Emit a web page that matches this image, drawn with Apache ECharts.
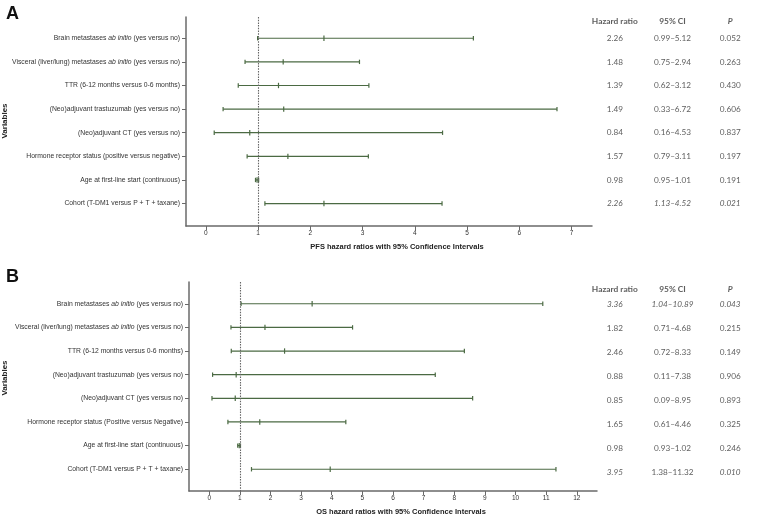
<!DOCTYPE html>
<html>
<head>
<meta charset="utf-8">
<script src="https://cdn.jsdelivr.net/npm/echarts@6/dist/echarts.min.js"></script>
<style>
  html, body { margin: 0; padding: 0; background: #fff; }
  #main { width: 759px; height: 517px; }
</style>
</head>
<body>
<div id="main"></div>
<script>
// row labels (top to bottom)
var labelsA = [
  'Brain metastases {i|ab initio} (yes versus no)',
  'Visceral (liver/lung) metastases {i|ab initio} (yes versus no)',
  'TTR (6-12 months versus 0-6 months)',
  '(Neo)adjuvant trastuzumab (yes versus no)',
  '(Neo)adjuvant CT (yes versus no)',
  'Hormone receptor status (positive versus negative)',
  'Age at first-line start (continuous)',
  'Cohort (T-DM1 versus P + T + taxane)'
];
var labelsB = [
  'Brain metastases {i|ab initio} (yes versus no)',
  'Visceral (liver/lung) metastases {i|ab initio} (yes versus no)',
  'TTR (6-12 months versus 0-6 months)',
  '(Neo)adjuvant trastuzumab (yes versus no)',
  '(Neo)adjuvant CT (yes versus no)',
  'Hormone receptor status (Positive versus Negative)',
  'Age at first-line start (continuous)',
  'Cohort (T-DM1 versus P + T + taxane)'
];

// PFS (panel A)
var hrA = [2.26, 1.48, 1.39, 1.49, 0.84, 1.57, 0.98, 2.26];
var loA = [0.99, 0.75, 0.62, 0.33, 0.16, 0.79, 0.95, 1.13];
var hiA = [5.12, 2.94, 3.12, 6.72, 4.53, 3.11, 1.01, 4.52];
var hrTextA = ['2.26', '1.48', '1.39', '1.49', '0.84', '1.57', '0.98', '2.26'];
var ciTextA = ['0.99\u20135.12', '0.75\u20132.94', '0.62\u20133.12', '0.33\u20136.72', '0.16\u20134.53', '0.79\u20133.11', '0.95\u20131.01', '1.13\u20134.52'];
var pTextA = ['0.052', '0.263', '0.430', '0.606', '0.837', '0.197', '0.191', '0.021'];
var italicA = [[0,0,0],[0,0,0],[0,0,0],[0,0,0],[0,0,0],[0,0,0],[0,0,0],[1,1,1]];
var ticksA = [0, 1, 2, 3, 4, 5, 6, 7];

// OS (panel B)
var hrB = [3.36, 1.82, 2.46, 0.88, 0.85, 1.65, 0.98, 3.95];
var loB = [1.04, 0.71, 0.72, 0.11, 0.09, 0.61, 0.93, 1.38];
var hiB = [10.89, 4.68, 8.33, 7.38, 8.6, 4.46, 1.02, 11.32];
var hrTextB = ['3.36', '1.82', '2.46', '0.88', '0.85', '1.65', '0.98', '3.95'];
var ciTextB = ['1.04\u201310.89', '0.71\u20134.68', '0.72\u20138.33', '0.11\u20137.38', '0.09\u20138.95', '0.61\u20134.46', '0.93\u20131.02', '1.38\u201311.32'];
var pTextB = ['0.043', '0.215', '0.149', '0.906', '0.893', '0.325', '0.246', '0.010'];
var italicB = [[1,1,1],[0,0,0],[0,0,0],[0,0,0],[0,0,0],[0,0,0],[0,0,0],[1,0,1]];
var ticksB = [0, 1, 2, 3, 4, 5, 6, 7, 8, 9, 10, 11, 12];

var rows = [1, 2, 3, 4, 5, 6, 7, 8];
var tableCols = ['Hazard ratio', '95% CI', 'P'];

var chart = echarts.init(document.getElementById('main'));

var lineCol = '#4b6a43';
var axisCol = '#6a6a6a';
var txtCol = '#333';

function renderErr(params, api) {
  var y = api.value(0);
  var pLo = api.coord([api.value(1), y]);
  var pMid = api.coord([api.value(2), y]);
  var pHi = api.coord([api.value(3), y]);
  var h = 2.2;
  var st = { stroke: lineCol, lineWidth: 1.2 };
  return {
    type: 'group',
    children: [
      { type: 'line', shape: { x1: pLo[0], y1: pLo[1], x2: pHi[0], y2: pHi[1] }, style: st },
      { type: 'line', shape: { x1: pLo[0], y1: pLo[1] - h, x2: pLo[0], y2: pLo[1] + h }, style: st },
      { type: 'line', shape: { x1: pHi[0], y1: pHi[1] - h, x2: pHi[0], y2: pHi[1] + h }, style: st },
      { type: 'line', shape: { x1: pMid[0], y1: pMid[1] - h - 0.5, x2: pMid[0], y2: pMid[1] + h + 0.5 }, style: st }
    ]
  };
}

function errData(hr, lo, hi) {
  return rows.map(function (r, i) { return [r, lo[i], hr[i], hi[i]]; });
}

function tableData(hrT, ciT, pT, ital, headerY) {
  var out = [];
  tableCols.forEach(function (c, j) {
    out.push({
      value: [j, headerY],
      label: { formatter: c, fontWeight: 'bold', fontSize: 8.4, fontStyle: j === 2 ? 'italic' : 'normal' }
    });
  });
  rows.forEach(function (r, i) {
    [hrT[i], ciT[i], pT[i]].forEach(function (t, j) {
      out.push({
        value: [j, r],
        label: { formatter: t, fontStyle: ital[i][j] ? 'italic' : 'normal' }
      });
    });
  });
  return out;
}

function plotX(idx, min, max, ticks, name) {
  return {
    type: 'value', gridIndex: idx, min: min, max: max,
    name: name, nameLocation: 'middle', nameGap: 17,
    nameTextStyle: { fontFamily: 'Liberation Sans', fontWeight: 'bold', fontSize: 7.5, color: '#222', padding: [0, 0, 0, 16] },
    axisLine: { show: true, onZero: false, lineStyle: { color: axisCol, width: 1.5 } },
    axisTick: { show: true, customValues: ticks, length: 4, lineStyle: { color: axisCol } },
    axisLabel: { customValues: ticks, fontFamily: 'Liberation Sans', fontSize: 6.5, color: txtCol, margin: 4 },
    splitLine: { show: false }
  };
}

function plotY(idx, min, max, labels) {
  return {
    type: 'value', gridIndex: idx, inverse: true, min: min, max: max,
    axisLine: { show: true, onZero: false, lineStyle: { color: axisCol, width: 1.5 } },
    axisTick: { show: true, customValues: rows, length: 4, lineStyle: { color: axisCol } },
    axisLabel: {
      customValues: rows, margin: 6,
      fontFamily: 'Liberation Sans', fontSize: 6.8, color: txtCol,
      formatter: function (v) { return labels[v - 1] || ''; },
      rich: { i: { fontFamily: 'Liberation Sans', fontSize: 6.8, fontStyle: 'italic', color: txtCol } }
    },
    splitLine: { show: false }
  };
}

function tableX(idx) {
  return { type: 'category', gridIndex: idx, data: tableCols, show: false };
}
function tableY(idx, min, max) {
  return { type: 'value', gridIndex: idx, inverse: true, min: min, max: max, show: false };
}

function refLine(xi, yi) {
  return {
    type: 'line', xAxisIndex: xi, yAxisIndex: yi, data: [], silent: true,
    markLine: {
      symbol: 'none', silent: true, label: { show: false },
      lineStyle: { color: '#666', type: [1.5, 1.2], width: 1.1 },
      data: [{ xAxis: 1 }]
    }
  };
}

function tableSeries(xi, yi, data) {
  return {
    type: 'scatter', xAxisIndex: xi, yAxisIndex: yi, symbolSize: 0, clip: false, silent: true,
    label: { show: true, position: 'inside', fontFamily: 'Lato', fontSize: 8.2, color: txtCol },
    data: data
  };
}

var option = {
  animation: false,
  backgroundColor: '#fff',
  title: [
    { text: 'A', left: 1, top: 0, textStyle: { fontFamily: 'Liberation Sans', fontWeight: 'bold', fontSize: 18, color: '#111' } },
    { text: 'B', left: 1, top: 263, textStyle: { fontFamily: 'Liberation Sans', fontWeight: 'bold', fontSize: 18, color: '#111' } }
  ],
  graphic: [
    { type: 'text', x: 5, y: 121, rotation: Math.PI / 2, style: { text: 'Variables', fontFamily: 'Liberation Sans', fontWeight: 'bold', fontSize: 8, fill: '#222', align: 'center', verticalAlign: 'middle' } },
    { type: 'text', x: 5, y: 378, rotation: Math.PI / 2, style: { text: 'Variables', fontFamily: 'Liberation Sans', fontWeight: 'bold', fontSize: 8, fill: '#222', align: 'center', verticalAlign: 'middle' } }
  ],
  grid: [
    { left: 186, top: 17, width: 406, height: 209 },
    { left: 586, top: 17, width: 192, height: 209 },
    { left: 189, top: 282, width: 408, height: 212 },
    { left: 586, top: 282, width: 192, height: 212 }
  ],
  xAxis: [
    plotX(0, -0.38, 7.39, ticksA, 'PFS hazard ratios with 95% Confidence Intervals'),
    tableX(1),
    plotX(2, -0.66, 12.66, ticksB, 'OS hazard ratios with 95% Confidence Intervals'),
    tableX(3)
  ],
  yAxis: [
    plotY(0, 0.1, 8.95, labelsA),
    tableY(1, 0.1, 8.95),
    plotY(2, 0.08, 8.92, labelsB),
    tableY(3, 0.08, 8.92)
  ],
  series: [
    refLine(0, 0),
    { type: 'custom', xAxisIndex: 0, yAxisIndex: 0, renderItem: renderErr, encode: { x: [1, 2, 3], y: 0 }, data: errData(hrA, loA, hiA) },
    tableSeries(1, 1, tableData(hrTextA, ciTextA, pTextA, italicA, 0.27)),
    refLine(2, 2),
    { type: 'custom', xAxisIndex: 2, yAxisIndex: 2, renderItem: renderErr, encode: { x: [1, 2, 3], y: 0 }, data: errData(hrB, loB, hiB) },
    tableSeries(3, 3, tableData(hrTextB, ciTextB, pTextB, italicB, 0.37))
  ]
};

chart.setOption(option);
</script>
</body>
</html>
